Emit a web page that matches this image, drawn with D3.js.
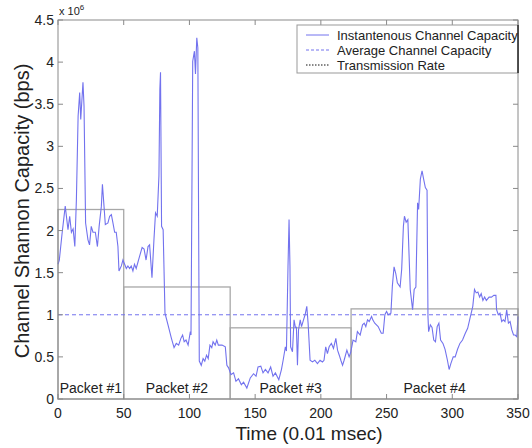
<!DOCTYPE html>
<html>
<head>
  <script src="https://d3js.org/d3.v7.min.js"></script>
  <style>
    body { margin: 0; background: #fff; }
    text { font-family: "Liberation Sans", Arial, sans-serif; fill: #222; }
  </style>
</head>
<body>
<svg id="chart" width="532" height="448"></svg>
<script>
// time axis (0.01 msec)
const timeVals = [0, 1, 3, 5.5, 7.6, 8.9, 10.2, 11.5, 12.8, 14, 15.3, 16.5, 17.3, 19, 19.8, 21, 22.8, 24, 25.3, 26.6,
  28.4, 30, 31.3, 33, 33.8, 35, 36, 38, 39.3, 40.6, 41.8, 43.1, 44.3, 45.6, 46.4, 48.2, 49.4, 50.7, 52, 53.2,
  54.5, 55.7, 57, 58.2, 59.5, 62, 64, 65.5, 67, 68.5, 69.7, 71.5, 73, 74.2, 75.5, 76.8, 77.5, 78, 78.8, 80,
  81.4, 83.7, 86.3, 88.3, 90, 91.8, 93.5, 94.8, 96, 97.4, 99, 100.7, 101.2, 102.5, 103.8, 104.6, 105.6, 106.4, 107, 107.5,
  109, 110.4, 111.7, 113, 114.3, 115.6, 117, 118, 119.6, 120.8, 122, 124.8, 127.3, 128.5, 129.8, 131.6, 133.6, 135.4, 137.3, 139.5,
  141.2, 143.7, 146.3, 148.8, 150.7, 152.2, 154.3, 156, 157.8, 159.8, 161.8, 163.6, 165.4, 168, 170, 171.3, 173, 173.8, 175, 175.8,
  176.5, 177, 178.4, 179.6, 180.6, 181.4, 182.2, 183, 184.3, 185.3, 186.8, 188, 189.3, 190.3, 191.8, 193.6, 195.4, 197.4, 199.4, 201.2,
  202.4, 203.7, 205, 206.3, 208, 209.6, 211.4, 212.7, 214, 215.2, 216.5, 217.7, 219.8, 221.5, 222.8, 224.5, 226.6, 227.8, 229.9, 231.7,
  233, 234.2, 235.5, 236.8, 238.6, 239.5, 241, 243.6, 246, 247.4, 248.7, 250, 251.3, 253.3, 254.4, 255.7, 257, 258.2, 260.3, 261.5,
  262.8, 263.6, 264.9, 266.2, 268, 269.8, 271, 272.3, 273.6, 274.4, 275.7, 277, 278.2, 279.5, 280.8, 281.5, 282, 283.3, 284.6, 285.9,
  287.2, 288.5, 289.8, 291.1, 292.9, 294.5, 296.3, 297.6, 298.9, 300.7, 302.2, 304, 305.8, 307.8, 309.9, 311.7, 313.5, 315.6, 316.9, 318.2,
  319.5, 320.8, 322, 323.3, 324.6, 325.9, 328, 329.8, 331.6, 333.2, 333.7, 335, 336.3, 337.6, 338.8, 340.1, 341.4, 342.7, 344, 345.3,
  346.6, 347.8, 349.1, 350];

// instantaneous capacity (x 10^6 bps)
const capacityVals = [1.6, 1.65, 1.95, 2.29, 2.01, 2.17, 1.98, 2.02, 1.81, 2.37, 3.36, 3.64, 3.32, 3.76, 3.48, 2.09, 1.89, 1.83, 2.05, 1.98,
  1.98, 1.81, 2.05, 2.29, 2.55, 2.29, 2.07, 2.09, 2.17, 2.19, 2.09, 1.98, 1.98, 1.81, 1.52, 1.58, 1.65, 1.6, 1.55, 1.58,
  1.55, 1.58, 1.52, 1.6, 1.55, 1.69, 1.8, 1.78, 1.65, 1.81, 1.83, 1.44, 1.89, 2.21, 2.17, 2.65, 3.68, 3.88, 2.05, 2.01,
  1.02, 0.88, 0.72, 0.61, 0.66, 0.64, 0.72, 0.76, 0.68, 0.7, 0.64, 0.8, 0.76, 4.01, 4.13, 3.86, 4.29, 4.17, 2.07, 0.45,
  0.4, 0.48, 0.45, 0.52, 0.48, 0.64, 0.61, 0.68, 0.64, 0.7, 0.64, 0.64, 0.62, 0.4, 0.37, 0.29, 0.31, 0.21, 0.24, 0.17,
  0.2, 0.13, 0.25, 0.3, 0.27, 0.38, 0.39, 0.31, 0.35, 0.31, 0.38, 0.27, 0.31, 0.23, 0.35, 0.46, 0.62, 0.57, 1.57, 2.13,
  1.57, 0.62, 0.56, 0.94, 0.85, 0.85, 0.4, 0.82, 0.94, 0.86, 0.94, 1.0, 1.1, 0.9, 0.46, 0.44, 0.46, 0.42, 0.46, 0.44,
  0.46, 0.62, 0.54, 0.62, 0.66, 0.6, 0.72, 0.58, 0.52, 0.46, 0.4, 0.46, 0.58, 0.5, 0.56, 0.7, 0.68, 0.8, 0.76, 0.88,
  0.9, 0.86, 0.94, 0.92, 0.98, 0.94, 0.9, 0.86, 0.78, 0.78, 1.0, 1.04, 1.0, 1.02, 1.34, 1.57, 1.49, 1.38, 1.33, 1.54,
  2.05, 2.17, 2.1, 2.13, 1.3, 1.06, 1.3, 1.33, 2.33, 2.25, 2.61, 2.71, 2.61, 2.51, 2.48, 0.98, 0.8, 0.88, 0.85, 0.7,
  0.68, 0.86, 0.9, 0.7, 0.66, 0.59, 0.46, 0.35, 0.42, 0.5, 0.5, 0.59, 0.66, 0.7, 0.78, 0.84, 0.96, 1.1, 1.3, 1.26,
  1.27, 1.21, 1.25, 1.17, 1.21, 1.17, 1.21, 1.21, 1.23, 1.23, 1.06, 1.0, 1.02, 0.92, 0.94, 0.92, 1.06, 0.9, 0.92, 0.82,
  0.76, 0.76, 0.74, 0.98];

const averageCapacity = 1.0;

const packetNames = ["Packet #1", "Packet #2", "Packet #3", "Packet #4"];
const packetStart = [0, 50, 131, 223];
const packetEnd = [50, 131, 223, 350];
const packetRate = [2.25, 1.33, 0.845, 1.07];

const xTicks = [0, 50, 100, 150, 200, 250, 300, 350];
const yTicks = [0, 0.5, 1, 1.5, 2, 2.5, 3, 3.5, 4, 4.5];
const yTickLabels = ["0", "0.5", "1", "1.5", "2", "2.5", "3", "3.5", "4", "4.5"];

const legendLabels = ["Instantenous Channel Capacity", "Average Channel Capacity", "Transmission Rate"];

const svg = d3.select("#chart");
const mLeft = 58, mRight = 518, mTop = 20, mBottom = 399;
const lineColor = "#7272ee";

const x = d3.scaleLinear().domain([0, 350]).range([mLeft, mRight]);
const y = d3.scaleLinear().domain([0, 4.5]).range([mBottom, mTop]);

// packet boxes (transmission rate)
const packets = packetNames.map((name, i) => ({name: name, x0: packetStart[i], x1: packetEnd[i], rate: packetRate[i]}));
const pg = svg.append("g");
pg.selectAll("rect")
  .data(packets)
  .enter()
  .append("rect")
  .attr("x", d => x(d.x0))
  .attr("y", d => y(d.rate))
  .attr("width", d => x(d.x1) - x(d.x0))
  .attr("height", d => y(0) - y(d.rate))
  .attr("fill", "none")
  .attr("stroke", "#a8a8a8")
  .attr("stroke-width", 1.3);

pg.selectAll("text")
  .data(packets)
  .enter()
  .append("text")
  .attr("x", d => x((d.x0 + d.x1) / 2))
  .attr("y", mBottom - 6)
  .attr("text-anchor", "middle")
  .style("font-size", "14px")
  .text(d => d.name);

// average line
svg.append("line")
  .attr("x1", x(0)).attr("x2", x(350))
  .attr("y1", y(averageCapacity)).attr("y2", y(averageCapacity))
  .attr("stroke", lineColor)
  .attr("stroke-width", 1)
  .attr("stroke-dasharray", "4,3");

// instantaneous capacity
const series = timeVals.map((t, i) => [t, capacityVals[i]]);
svg.append("path")
  .datum(series)
  .attr("fill", "none")
  .attr("stroke", lineColor)
  .attr("stroke-width", 1.1)
  .attr("d", d3.line().x(d => x(d[0])).y(d => y(d[1])));

// axes, MATLAB style with inward ticks on all sides
const axisColor = "#8a8a8a";
svg.append("rect")
  .attr("x", mLeft).attr("y", mTop)
  .attr("width", mRight - mLeft).attr("height", mBottom - mTop)
  .attr("fill", "none")
  .attr("stroke", axisColor);

const tk = svg.append("g").attr("stroke", axisColor);
xTicks.forEach(t => {
  tk.append("line").attr("x1", x(t)).attr("x2", x(t)).attr("y1", mBottom).attr("y2", mBottom - 5);
  tk.append("line").attr("x1", x(t)).attr("x2", x(t)).attr("y1", mTop).attr("y2", mTop + 5);
});
yTicks.forEach(t => {
  tk.append("line").attr("x1", mLeft).attr("x2", mLeft + 5).attr("y1", y(t)).attr("y2", y(t));
  tk.append("line").attr("x1", mRight).attr("x2", mRight - 5).attr("y1", y(t)).attr("y2", y(t));
});

svg.append("g").selectAll("text")
  .data(xTicks)
  .enter()
  .append("text")
  .attr("x", d => x(d))
  .attr("y", mBottom + 19)
  .attr("text-anchor", "middle")
  .style("font-size", "14px")
  .text(d => d);

svg.append("g").selectAll("text")
  .data(yTicks)
  .enter()
  .append("text")
  .attr("x", mLeft - 4)
  .attr("y", d => y(d) + 5)
  .attr("text-anchor", "end")
  .style("font-size", "14px")
  .text((d, i) => yTickLabels[i]);

// exponent
const ex = svg.append("text")
  .attr("x", mLeft + 1)
  .attr("y", 15)
  .style("font-size", "11px");
ex.append("tspan").text("x 10");
ex.append("tspan").attr("dy", -5).style("font-size", "8px").text("6");

// axis titles
svg.append("text")
  .attr("x", 309)
  .attr("y", 440)
  .attr("text-anchor", "middle")
  .style("font-size", "19px")
  .text("Time (0.01 msec)");

svg.append("text")
  .attr("transform", "translate(29,211) rotate(-90)")
  .attr("text-anchor", "middle")
  .style("font-size", "20px")
  .text("Channel Shannon Capacity (bps)");

// legend
const lg = svg.append("g");
lg.append("rect")
  .attr("x", 297).attr("y", 25)
  .attr("width", 221).attr("height", 48)
  .attr("fill", "#fff")
  .attr("stroke", "#999");
lg.append("line")
  .attr("x1", 518).attr("x2", 518).attr("y1", 25).attr("y2", 73)
  .attr("stroke", "#111").attr("stroke-width", 1.3);

const legendStyle = [
  {color: lineColor, dash: null},
  {color: lineColor, dash: "3,2"},
  {color: "#111", dash: "1.5,1.5"}
];
legendLabels.forEach((lab, i) => {
  const yy = 35 + i * 15;
  lg.append("line")
    .attr("x1", 306).attr("x2", 329)
    .attr("y1", yy).attr("y2", yy)
    .attr("stroke", legendStyle[i].color)
    .attr("stroke-dasharray", legendStyle[i].dash);
  lg.append("text")
    .attr("x", 337)
    .attr("y", yy + 4.5)
    .style("font-size", "13px")
    .text(lab);
});
</script>
</body>
</html>
